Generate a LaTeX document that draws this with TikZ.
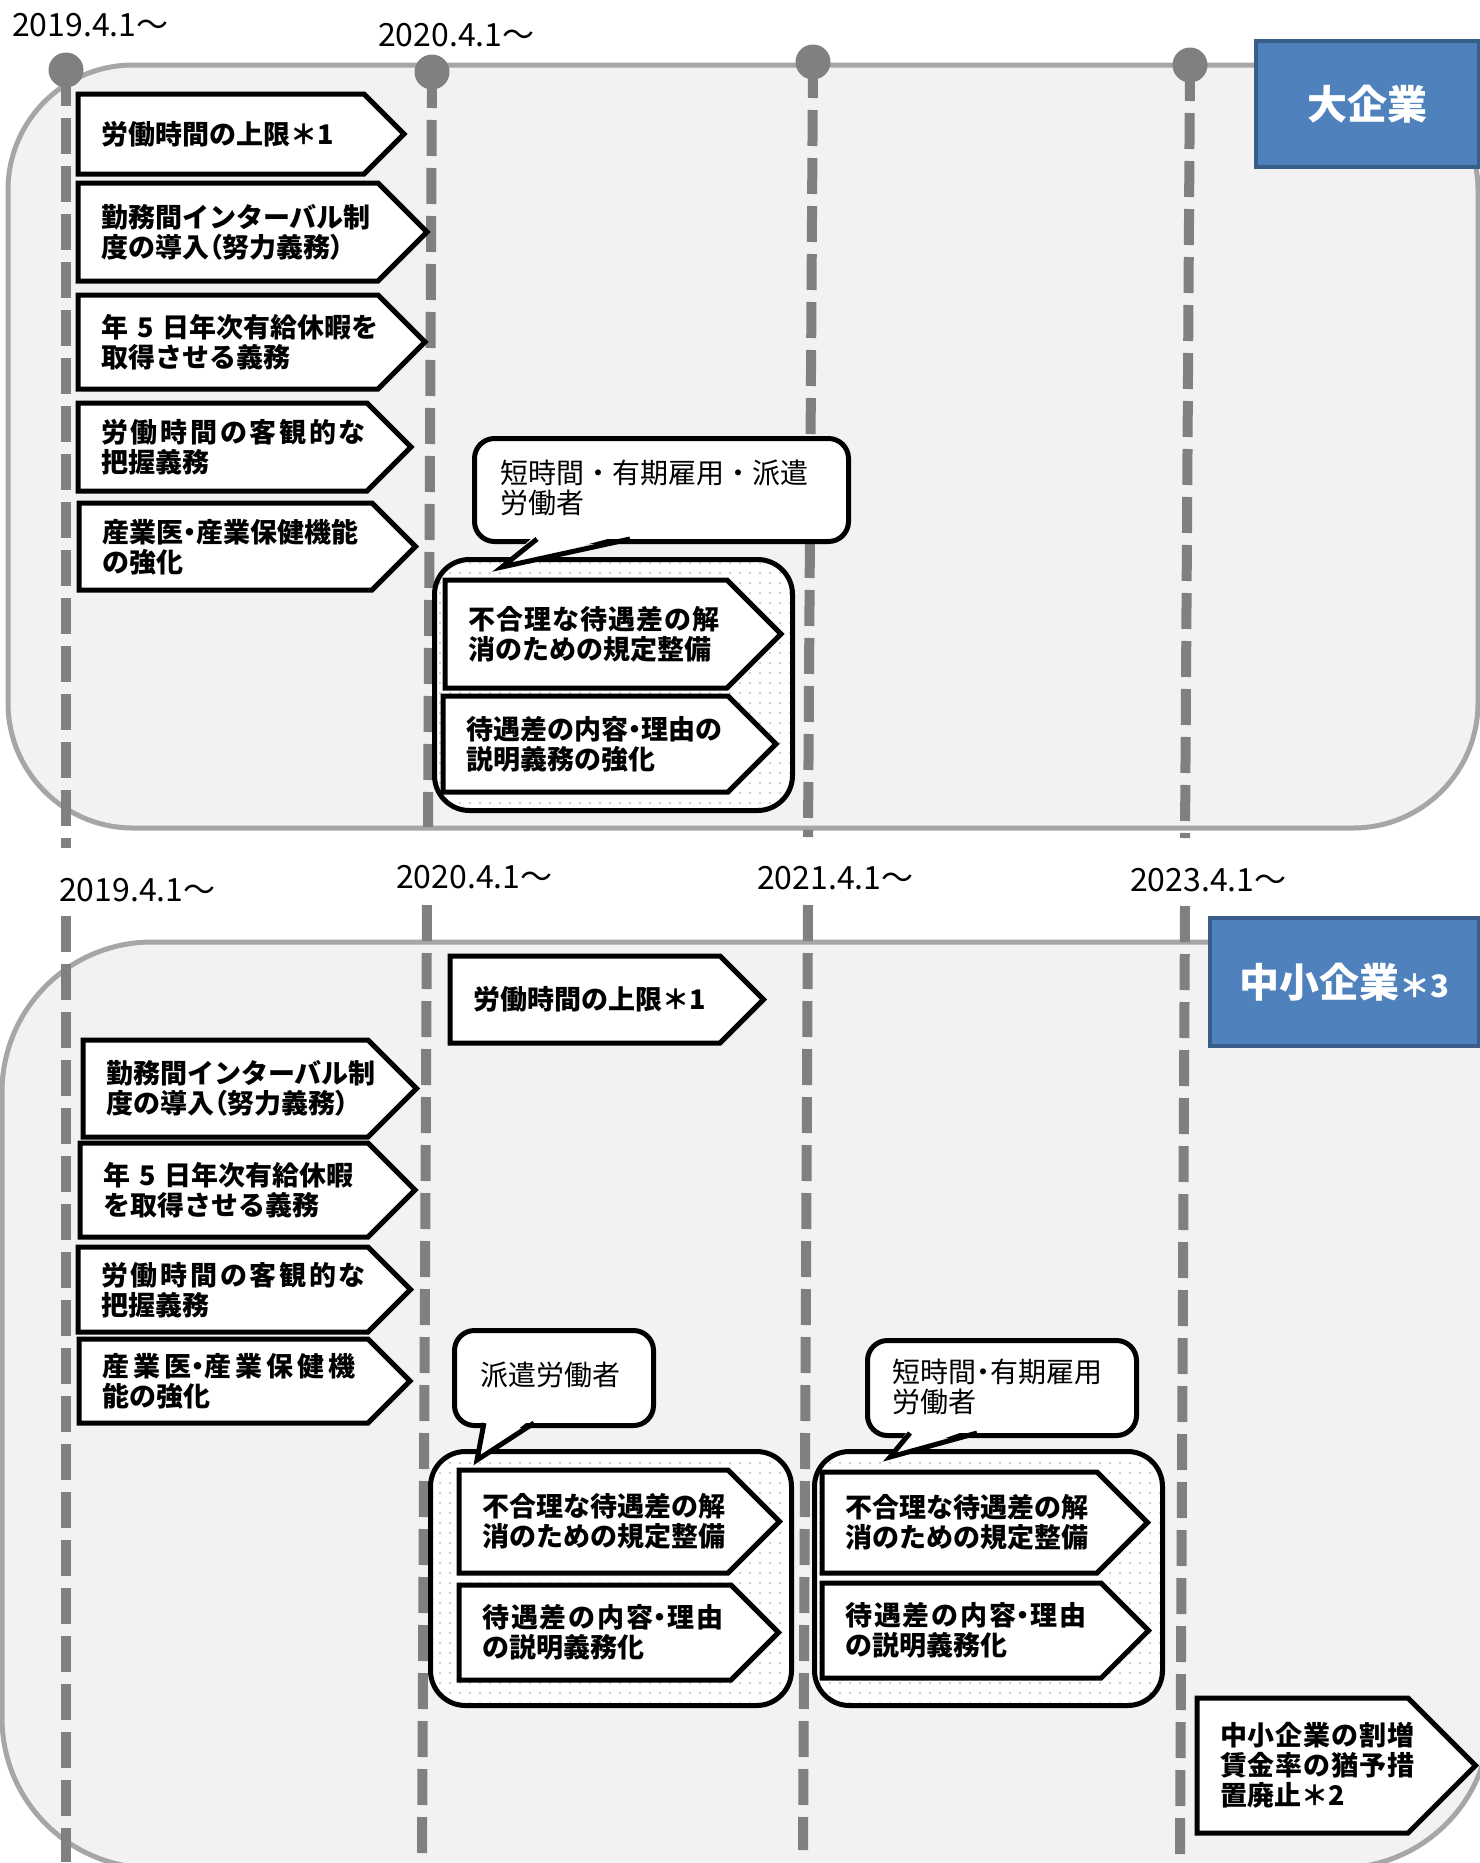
\documentclass[tikz,border=0pt]{standalone}
\usepackage{fontspec}
\usetikzlibrary{patterns.meta}
\newfontfamily\jpfont{Noto Sans CJK JP}[RawFeature=+palt]
\newfontfamily\jpplain{Noto Sans CJK JP}
\newcommand\nkg{{\jpfont ・}}
\newcommand\spc[2]{{\addfontfeature{LetterSpace=#1}#2}}
\definecolor{panelfill}{HTML}{F2F2F2}
\definecolor{paneledge}{HTML}{A6A6A6}
\definecolor{tline}{HTML}{808080}
\definecolor{bluefill}{HTML}{4F81BD}
\definecolor{blueedge}{HTML}{385D8A}
\tikzset{
 panel/.style={fill=panelfill, draw=paneledge, line width=5pt},
 vline/.style={draw=tline, line width=10pt, dash pattern=on 36pt off 12pt},
 tdot/.style={circle, fill=tline, minimum size=35pt, inner sep=0pt},
 datelbl/.style={anchor=west, inner sep=0pt, font=\jpplain\fontsize{32}{36}\selectfont},
 aedge/.style={draw=black, line width=5pt, fill=white, line join=miter},
 atext/.style={inner xsep=23pt, inner ysep=0pt, align=left, font=\jpplain\bfseries\fontsize{27}{30}\selectfont},
 gbox/.style={draw=black, line width=5pt, rounded corners=35pt, preaction={fill=white}, pattern={Dots[distance=10pt,radius=1.1pt]}, pattern color=black!25},
 callout/.style={draw=black, line width=5pt, fill=white, rounded corners=20pt, inner sep=0pt},
 ctext/.style={anchor=west, inner sep=0pt, align=left, font=\jpplain\fontsize{28}{30}\selectfont},
 bluebox/.style={fill=bluefill, draw=blueedge, line width=4pt, text=white, inner sep=0pt, font=\jpplain\bfseries\fontsize{40}{44}\selectfont},
}
% name, x1, y1, x-straight-end, y2, text
\newcommand\arrbox[6]{%
  \pgfmathsetmacro\abh{(#5-#3)/2}%
  \pgfmathsetmacro\abhh{#5-#3}%
  \pgfmathsetmacro\abw{#4-#2}%
  \pgfmathsetmacro\abtw{#4-#2-46}%
  \draw[aedge] (#2,#3) -- (#4,#3) -- ++(\abh,\abh) -- (#4,#5) -- (#2,#5) -- cycle;
  \node[atext, anchor=north west, minimum width=\abw pt, minimum height=\abhh pt, text width=\abtw pt] (#1) at (#2,#3) {#6};
}
% name, x1, y1, x2, y2, tail-left, tail-right, tipx, tipy
\newcommand\speech[9]{%
  \pgfmathsetmacro\spw{#4-#2}%
  \pgfmathsetmacro\sph{#5-#3}%
  \node[callout, anchor=north west, minimum width=\spw pt, minimum height=\sph pt] (#1) at (#2,#3) {};
  \fill[white] (#6,{#5-6}) -- (#8,#9) -- (#7,{#5-6}) -- cycle;
  \draw[black, line width=5pt, line join=miter] (#6,#5) -- (#8,#9) -- (#7,#5);
}
% name, x1, y1, x2, y2
\newcommand\groupbox[5]{%
  \pgfmathsetmacro\gw{#4-#2}%
  \pgfmathsetmacro\gh{#5-#3}%
  \node[gbox, anchor=north west, minimum width=\gw pt, minimum height=\gh pt, inner sep=0pt] (#1) at (#2,#3) {};
}
\begin{document}
\begin{tikzpicture}[x=1pt,y=-1pt]
\useasboundingbox (0,0) rectangle (1480,1863);
% panels
\draw[panel, rounded corners=125pt] (8,65) rectangle (1478,828);
\draw[panel, rounded corners=150pt] (2,942) rectangle (1490,1868);
% timeline coordinates
\coordinate (a1) at (66,70);   \coordinate (a1e) at (66,848);
\coordinate (a2) at (432,72);  \coordinate (a2e) at (428,827);
\coordinate (a3) at (813,62);  \coordinate (a3e) at (808,837);
\coordinate (a4) at (1190,65); \coordinate (a4e) at (1185,838);
\coordinate (b1) at (66,916);  \coordinate (b1e) at (66,1862);
\coordinate (b2) at (427,905); \coordinate (b2e) at (422,1860);
\coordinate (b3) at (808,905); \coordinate (b3e) at (803,1850);
\coordinate (b4) at (1185,906);\coordinate (b4e) at (1180,1855);
\foreach \s in {a1,a2,a3,a4,b1,b2,b3,b4} {\draw[vline] (\s) -- (\s e);}
\node[tdot] (dot1) at (a1) {};
\node[tdot] (dot2) at (a2) {};
\node[tdot] (dot3) at (a3) {};
\node[tdot] (dot4) at (a4) {};
% date labels
\node[datelbl] (d19a) at (12,25) {2019.4.1～};
\node[datelbl] (d20a) at (378,35) {2020.4.1～};
\node[datelbl] (d19b) at (59,890) {2019.4.1～};
\node[datelbl] (d20b) at (396,877) {2020.4.1～};
\node[datelbl] (d21b) at (757,878) {2021.4.1～};
\node[datelbl] (d23b) at (1130,880) {2023.4.1～};
% blue boxes
\node[bluebox, anchor=north west, minimum width=223pt, minimum height=126pt] (big) at (1254,39) {大企業};
\node[bluebox, anchor=north west, minimum width=269pt, minimum height=128pt] (sme) at (1208,916) {中小企業{\fontsize{31}{34}\selectfont ＊3}};
% top panel boxes
\arrbox{t1}{78}{94}{364}{174}{労働時間の上限＊1}
\arrbox{t2}{78}{183}{378}{281}{勤務間インターバル制\\度の導入{\jpfont （}努力義務{\jpfont ）}}
\arrbox{t3}{78}{295}{378}{389}{年~5~日年次有給休暇を\\取得させる義務}
\arrbox{t4}{78}{403}{367}{491}{\spc{10}{労働時間の客観的な}\\把握義務}
\arrbox{t5}{79}{503}{372}{590}{産業医\nkg 産業保健機能\\の強化}
\groupbox{gt}{432}{557}{790}{808}
\arrbox{gta}{445}{580}{727}{688}{\spc{4}{不合理な待遇差の解}\\消のための規定整備}
\arrbox{gtb}{443}{696}{728}{792}{待遇差の内容\nkg 理由の\\説明義務の強化}
\speech{ct}{472}{436}{846}{539}{537}{630}{502}{567}
\node[ctext] (ctt) at (500,488) {短時間・有期雇用・派遣\\労働者};
% lower panel boxes
\arrbox{l20}{450}{956}{720}{1043}{労働時間の上限＊1}
\arrbox{l2}{83}{1040}{368}{1137}{勤務間インターバル制\\度の導入{\jpfont （}努力義務{\jpfont ）}}
\arrbox{l3}{80}{1143}{368}{1237}{年~5~日年次有給休暇\\を取得させる義務}
\arrbox{l4}{78}{1247}{368}{1332}{\spc{10}{労働時間の客観的な}\\把握義務}
\arrbox{l5}{79}{1339}{368}{1423}{\spc{15}{産業医\nkg 産業保健機}\\能の強化}
\groupbox{g1}{428}{1449}{789}{1703}
\arrbox{g1a}{459}{1470}{728}{1573}{不合理な待遇差の解\\消のための規定整備}
\arrbox{g1b}{459}{1585}{731}{1680}{\spc{7}{待遇差の内容\nkg 理由}\\の説明義務化}
\groupbox{g2}{812}{1449}{1160}{1703}
\arrbox{g2a}{822}{1472}{1097}{1573}{不合理な待遇差の解\\消のための規定整備}
\arrbox{g2b}{822}{1583}{1101}{1678}{\spc{7}{待遇差の内容\nkg 理由}\\の説明義務化}
\speech{c1}{452}{1328}{651}{1423}{484}{534}{477}{1460}
\node[ctext] (c1t) at (480,1375) {派遣労働者};
\speech{c2}{865}{1338}{1134}{1433}{910}{977}{890}{1457}
\node[ctext] (c2t) at (892,1387) {短時間{\jpfont ・}有期雇用\\労働者};
\arrbox{wz}{1197}{1698}{1408}{1833}{\spc{3}{中小企業の割増}\\\spc{3}{賃金率の猶予措}\\置廃止＊2\vphantom{の}}
\end{tikzpicture}
\end{document}
